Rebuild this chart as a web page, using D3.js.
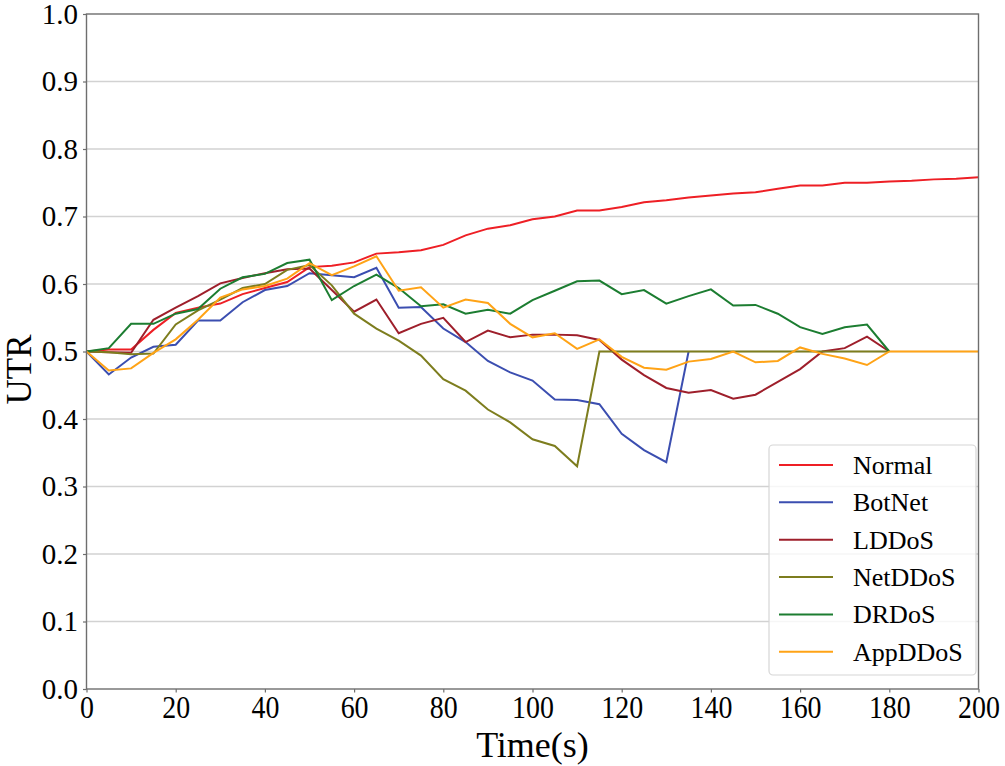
<!DOCTYPE html>
<html><head><meta charset="utf-8">
<script src="https://cdn.jsdelivr.net/npm/d3@7"></script>
<style>
html,body{margin:0;padding:0;background:#fff;}
svg{display:block;}
text{font-family:"Liberation Serif","Times New Roman",serif;fill:#000;}
</style></head>
<body>
<svg id="chart" width="1005" height="766"></svg>
<script>
const times = d3.range(0, 201, 5);
const seriesNames = ["Normal","BotNet","LDDoS","NetDDoS","DRDoS","AppDDoS"];
const seriesColors = ["#ee1f25","#3b4eb0","#9e1f2b","#7d7d1e","#1c7d31","#ffa316"];
const yTicks = [0,0.1,0.2,0.3,0.4,0.5,0.6,0.7,0.8,0.9,1.0];
const xTicks = [0,20,40,60,80,100,120,140,160,180,200];

const normal = [0.5,0.503,0.503,0.532,0.557,0.565,0.571,0.585,0.594,0.603,0.625,0.627,0.632,0.645,0.647,0.650,0.658,0.672,0.682,0.687,0.696,0.700,0.709,0.709,0.714,0.721,0.724,0.728,0.731,0.734,0.736,0.741,0.746,0.746,0.750,0.750,0.752,0.753,0.755,0.756,0.758];
const botnet = [0.5,0.466,0.491,0.507,0.510,0.546,0.546,0.573,0.591,0.597,0.616,0.613,0.610,0.624,0.565,0.566,0.534,0.514,0.486,0.469,0.457,0.429,0.428,0.422,0.378,0.354,0.336,0.5];
const lddos = [0.5,0.499,0.498,0.547,0.565,0.582,0.601,0.609,0.616,0.622,0.623,0.591,0.559,0.577,0.527,0.541,0.550,0.514,0.531,0.521,0.525,0.525,0.524,0.517,0.488,0.465,0.446,0.439,0.443,0.430,0.436,0.455,0.474,0.5,0.505,0.522,0.5];
const netddos = [0.5,0.499,0.496,0.497,0.540,0.561,0.577,0.594,0.600,0.621,0.628,0.598,0.556,0.534,0.516,0.494,0.459,0.442,0.414,0.395,0.370,0.360,0.330,0.5,0.5,0.5,0.5,0.5,0.5,0.5,0.5,0.5,0.5,0.5,0.5,0.5,0.5];
const drdos = [0.5,0.505,0.541,0.541,0.556,0.563,0.593,0.610,0.615,0.631,0.636,0.576,0.597,0.614,0.594,0.567,0.570,0.556,0.562,0.556,0.576,0.590,0.604,0.605,0.585,0.591,0.571,0.582,0.592,0.568,0.569,0.556,0.536,0.526,0.536,0.540,0.5];
const appddos = [0.5,0.472,0.475,0.498,0.518,0.547,0.580,0.592,0.597,0.608,0.631,0.613,0.626,0.641,0.590,0.595,0.565,0.577,0.572,0.541,0.521,0.527,0.504,0.518,0.492,0.476,0.473,0.485,0.489,0.5,0.484,0.486,0.506,0.4965,0.4895,0.480,0.5,0.5,0.5,0.5,0.5];

const seriesValues = [normal, botnet, lddos, netddos, drdos, appddos];

const svg = d3.select("#chart");
const L = 86.5, R = 978.5, T = 14, B = 689;
const x = d3.scaleLinear().domain([0,200]).range([L,R]);
const y = d3.scaleLinear().domain([0,1]).range([B,T]);

// gridlines
svg.append("g").selectAll("line").data(yTicks.filter(v => v > 0 && v < 1)).join("line")
  .attr("x1", L).attr("x2", R).attr("y1", d => y(d)).attr("y2", d => y(d))
  .attr("stroke", "#d2d2d2").attr("stroke-width", 1.4);

// lines
const line = d3.line().x((d,i) => x(times[i])).y(d => y(d));
seriesValues.forEach((vals, k) => {
  svg.append("path").datum(vals).attr("d", line)
    .attr("fill","none").attr("stroke", seriesColors[k]).attr("stroke-width", 2)
    .attr("stroke-linejoin","miter");
});

// axes
const yAxis = d3.axisLeft(y).tickValues(yTicks).tickFormat(d3.format(".1f")).tickSize(3.5).tickPadding(5);
const gy = svg.append("g").attr("transform", `translate(${L},0)`).call(yAxis);
gy.select(".domain").remove();
gy.selectAll(".tick line").attr("stroke","#6e6e6e").attr("stroke-width",1.2);
gy.selectAll(".tick text").style("font-size","29px").style("font-family",'"Liberation Serif","Times New Roman",serif').attr("fill","#000");

const xAxis = d3.axisBottom(x).tickValues(xTicks).tickFormat(d3.format("d")).tickSize(3.5).tickPadding(4);
const gx = svg.append("g").attr("transform", `translate(0,${B})`).call(xAxis);
gx.select(".domain").remove();
gx.selectAll(".tick line").attr("stroke","#6e6e6e").attr("stroke-width",1.2);
gx.selectAll(".tick text").style("font-size","31px").style("font-family",'"Liberation Serif","Times New Roman",serif').attr("fill","#000")
  .attr("transform","scale(0.9,1)");

// border
svg.append("rect").attr("x", L).attr("y", T).attr("width", R-L).attr("height", B-T)
  .attr("fill","none").attr("stroke","#6e6e6e").attr("stroke-width",1.4);

// axis titles
svg.append("text").attr("x", (L+R)/2).attr("y", 757).attr("text-anchor","middle")
  .style("font-size","36px").text("Time(s)");
svg.append("text").attr("transform", `translate(31,${(T+B)/2 + 18}) rotate(-90)`).attr("text-anchor","middle")
  .style("font-size","35px").text("UTR");

// legend
const lg = svg.append("g");
lg.append("rect").attr("x", 769).attr("y", 445).attr("width", 207).attr("height", 230).attr("rx", 4)
  .attr("fill","#fff").attr("fill-opacity",0.8).attr("stroke","#d6d6d6").attr("stroke-width",1.2);
seriesNames.forEach((name, k) => {
  const cy = 465 + k*37.35;
  lg.append("line").attr("x1", 779).attr("x2", 833).attr("y1", cy).attr("y2", cy)
    .attr("stroke", seriesColors[k]).attr("stroke-width", 2);
  lg.append("text").attr("x", 853).attr("y", cy + 9).style("font-size","26px").text(name);
});
</script>
</body></html>
